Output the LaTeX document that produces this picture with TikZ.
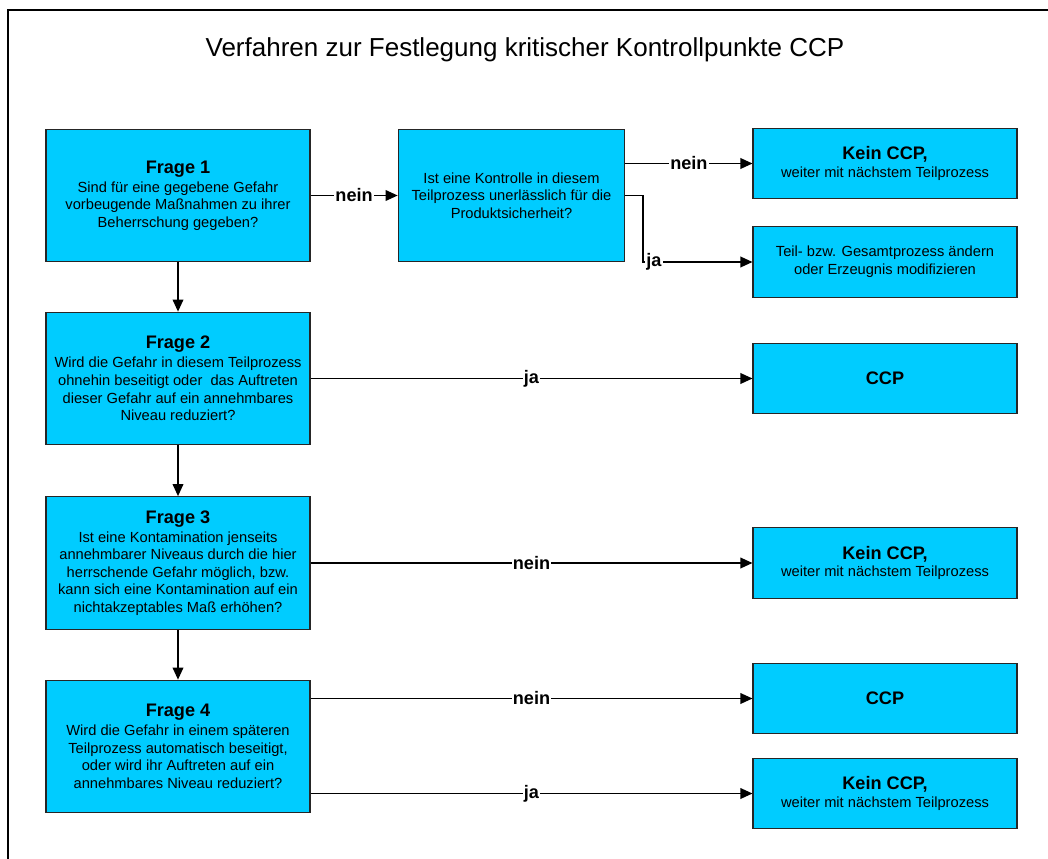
\documentclass[tikz,border=0pt]{standalone}
\usepackage{fontspec}
\setmainfont{Liberation Sans}
\usetikzlibrary{arrows.meta,positioning}
\definecolor{ccpblau}{RGB}{0,204,255}

\begin{document}
\begin{tikzpicture}[x=0.75pt,y=-0.75pt,
    kasten/.style={draw=black!85,line width=0.8pt,fill=ccpblau,align=center,
      inner sep=0pt,font=\fontsize{11}{13.2}\selectfont},
    frage/.style={kasten,minimum width=198pt,minimum height=99.5pt},
    ziel/.style={kasten,minimum width=198pt,minimum height=53pt},
    pfeil/.style={-{Triangle[length=9pt,width=8pt]},line width=1pt},
    lbl/.style={fill=white,inner sep=1pt,font=\fontsize{13.6}{16}\selectfont\bfseries}] % CCP-Entscheidungsbaum
\useasboundingbox (0,0) rectangle (1048,859);
\draw[line width=1.6pt] (8,859) -- (8,10) -- (1048,10);
\node (titel) at (525,50) {\fontsize{19.5}{23}\selectfont Verfahren zur Festlegung kritischer Kontrollpunkte CCP};

\node[frage] (q1) at (178,195.5) {{\fontsize{13.6}{16}\selectfont\bfseries Frage 1}\\[1pt]
    Sind für eine gegebene Gefahr\\ vorbeugende Maßnahmen zu ihrer\\ Beherrschung gegeben?};
\node[kasten,minimum width=170pt,minimum height=99.5pt] (ctrl) at (511.5,195.5)
    {Ist eine Kontrolle in diesem\\ Teilprozess unerlässlich für die\\ Produktsicherheit?};
\node[ziel] (kein1) at (885,163.5) {{\fontsize{13.6}{16}\selectfont\bfseries Kein CCP,}\\ weiter mit nächstem Teilprozess};
\node[ziel] (aend) at (885,262) {Teil- bzw. Gesamtprozess ändern\\ oder Erzeugnis modifizieren};

\node[frage] (q2) at (178,378.5) {{\fontsize{13.6}{16}\selectfont\bfseries Frage 2}\\[1pt]
    Wird die Gefahr in diesem Teilprozess\\ ohnehin beseitigt oder\ \ das Auftreten\\
    dieser Gefahr auf ein annehmbares\\ Niveau reduziert?};
\node[ziel] (ccp2) at (885,378.5) {\fontsize{13.6}{16}\selectfont\bfseries CCP};

\node[frage] (q3) at (178,563) {{\fontsize{13.6}{16}\selectfont\bfseries Frage 3}\\[1pt]
    Ist eine Kontamination jenseits\\ annehmbarer Niveaus durch die hier\\
    herrschende Gefahr möglich, bzw.\\ kann sich eine Kontamination auf ein\\
    nichtakzeptables Maß erhöhen?};
\node[ziel] (kein3) at (885,563) {{\fontsize{13.6}{16}\selectfont\bfseries Kein CCP,}\\ weiter mit nächstem Teilprozess};

\node[frage] (q4) at (178,746.5) {{\fontsize{13.6}{16}\selectfont\bfseries Frage 4}\\[1pt]
    Wird die Gefahr in einem späteren\\ Teilprozess automatisch beseitigt,\\
    oder wird ihr Auftreten auf ein\\ annehmbares Niveau reduziert?};
\node[ziel] (ccp4) at (885,698.5) {\fontsize{13.6}{16}\selectfont\bfseries CCP};
\node[ziel] (kein4) at (885,793.5) {{\fontsize{13.6}{16}\selectfont\bfseries Kein CCP,}\\ weiter mit nächstem Teilprozess};

\coordinate (knick) at (643,262);

\draw[pfeil] (q1) -- (q2);
\draw[pfeil] (q2) -- (q3);
\draw[pfeil] (q3) -- (q4);
\draw[pfeil] (q1) -- node[lbl] {nein} (ctrl);
\draw[pfeil] (ctrl.east |- kein1) -- node[lbl] {nein} (kein1);
\draw[pfeil] (ctrl.east) -| (knick) -- node[lbl,pos=0.1] {ja} (aend);
\draw[pfeil] (q2) -- node[lbl] {ja} (ccp2);
\draw[pfeil] (q3) -- node[lbl] {nein} (kein3);
\draw[pfeil] (q4.east |- ccp4) -- node[lbl] {nein} (ccp4);
\draw[pfeil] (q4.east |- kein4) -- node[lbl] {ja} (kein4);
\end{tikzpicture}
\end{document}
